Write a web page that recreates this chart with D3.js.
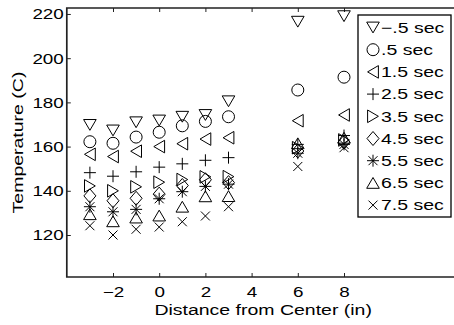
<!DOCTYPE html>
<html>
<head>
<meta charset="utf-8">
<script src="https://cdn.jsdelivr.net/npm/d3@7"></script>
<style>
  body { margin: 0; background: #fff; }
  svg { display: block; font-family: "Liberation Sans", Arial, sans-serif; }
</style>
</head>
<body>
<svg width="454" height="325"></svg>
<script>
const width = 454
const height = 325

// data
const distance = [-3, -2, -1, 0, 1, 2, 3, 6, 8]
const seriesNames = ["\u2212.5 sec", ".5 sec", "1.5 sec", "2.5 sec", "3.5 sec", "4.5 sec", "5.5 sec", "6.5 sec", "7.5 sec"]
const seriesMarkers = ["v", "o", "<", "+", ">", "d", "*", "^", "x"]
const tM05 = [169.8, 167.3, 171.0, 171.8, 173.5, 174.3, 180.5, 216.5, 219.0]
const t05  = [162.2, 161.5, 164.3, 166.5, 169.4, 171.4, 173.5, 185.6, 191.4]
const t15  = [156.5, 155.5, 157.9, 160.0, 161.3, 163.4, 164.0, 171.7, 174.3]
const t25  = [148.2, 146.6, 148.6, 150.7, 152.2, 153.8, 155.0, 161.0, 165.0]
const t35  = [142.2, 140.0, 141.8, 143.9, 145.1, 146.3, 146.4, 159.5, 163.0]
const t45  = [137.7, 135.5, 136.6, 138.5, 142.4, 145.0, 143.7, 158.0, 162.0]
const t55  = [132.8, 130.5, 131.6, 136.4, 139.6, 142.0, 143.0, 157.0, 161.0]
const t65  = [129.4, 126.2, 127.9, 128.8, 132.8, 137.5, 137.6, 161.5, 164.0]
const t75  = [124.2, 120.0, 122.6, 123.6, 126.0, 128.6, 132.8, 151.0, 159.5]
const seriesValues = [tM05, t05, t15, t25, t35, t45, t55, t65, t75]
const xTicks = [-2, 0, 2, 4, 6, 8]
const yTicks = [120, 140, 160, 180, 200, 220]

const stretch = 1.3   // the original font runs wide
const fontSize = 15
const tickFont = 14.5

const svg = d3.select("svg")

const xScale = d3.scaleLinear().domain([-4, 13]).range([66.8, 459.5])
const yScale = d3.scaleLinear().domain([101, 222.7]).range([277, 8])

const x0 = xScale.range()[0], x1 = xScale.range()[1]
const yB = yScale.range()[0], yT = yScale.range()[1]

// marker shapes, centred on the point
function markerPath(type){
	const p = d3.path()
	if (type === "o") { p.moveTo(6, 0); p.arc(0, 0, 6, 0, 2 * Math.PI) }
	else if (type === "v") { p.moveTo(-6.3, -5.4); p.lineTo(6.3, -5.4); p.lineTo(0, 5.4); p.closePath() }
	else if (type === "^") { p.moveTo(-6.3, 5.4); p.lineTo(6.3, 5.4); p.lineTo(0, -5.4); p.closePath() }
	else if (type === "<") { p.moveTo(5.4, -6.3); p.lineTo(5.4, 6.3); p.lineTo(-5.4, 0); p.closePath() }
	else if (type === ">") { p.moveTo(-5.4, -6.3); p.lineTo(-5.4, 6.3); p.lineTo(5.4, 0); p.closePath() }
	else if (type === "d") { p.moveTo(0, -7); p.lineTo(6, 0); p.lineTo(0, 7); p.lineTo(-6, 0); p.closePath() }
	else if (type === "+") { p.moveTo(-6, 0); p.lineTo(6, 0); p.moveTo(0, -6); p.lineTo(0, 6) }
	else if (type === "x") { p.moveTo(-4.5, -4.5); p.lineTo(4.5, 4.5); p.moveTo(-4.5, 4.5); p.lineTo(4.5, -4.5) }
	else if (type === "*") {
		p.moveTo(-6, 0); p.lineTo(6, 0); p.moveTo(0, -6); p.lineTo(0, 6)
		p.moveTo(-4.5, -4.5); p.lineTo(4.5, 4.5); p.moveTo(-4.5, 4.5); p.lineTo(4.5, -4.5)
	}
	return p.toString()
}

// axes
const xAxis = d3.axisBottom(xScale).tickValues(xTicks).tickSizeInner(-4).tickSizeOuter(0)
const xAxisTop = d3.axisTop(xScale).tickValues(xTicks).tickSizeInner(-4).tickSizeOuter(0).tickFormat("")
const yAxis = d3.axisLeft(yScale).tickValues(yTicks).tickSizeInner(-4).tickSizeOuter(0)

const gx = svg.append("g").attr("transform", `translate(0,${yB})`).call(xAxis)
const gxt = svg.append("g").attr("transform", `translate(0,${yT})`).call(xAxisTop)
const gy = svg.append("g").attr("transform", `translate(${x0},0)`).call(yAxis)

;[gx, gxt, gy].forEach(g => {
	g.select(".domain").remove()
	g.selectAll(".tick line").attr("stroke", "#222").attr("stroke-width", 1)
})

gx.selectAll("text")
	.attr("y", null).attr("dy", null)
	.attr("font-size", tickFont).attr("fill", "#000")
	.attr("transform", `translate(0,19.5) scale(${stretch},1)`)

gy.selectAll("text")
	.attr("x", null).attr("dy", "0.34em")
	.attr("font-size", tickFont).attr("fill", "#000")
	.attr("transform", `translate(-3,0) scale(${stretch},1)`)

// frame (left, bottom, top; right side lies outside the window)
svg.append("path")
	.attr("d", `M${x1},${yT}H${x0}V${yB}H${x1}`)
	.attr("fill", "none").attr("stroke", "#222").attr("stroke-width", 1.7)

// points
const groups = svg.append("g").selectAll("g")
	.data(seriesValues)
	.join("g")

groups.each(function(vals, s){
	d3.select(this).selectAll("path")
		.data(vals)
		.join("path")
		.attr("d", markerPath(seriesMarkers[s]))
		.attr("transform", (d, i) => `translate(${xScale(distance[i])},${yScale(d)})`)
		.attr("fill", "none")
		.attr("stroke", "#000")
		.attr("stroke-width", 1)
})

// axis labels
svg.append("text")
	.attr("transform", `translate(${(x0 + x1) / 2},314.5) scale(${stretch},1)`)
	.attr("text-anchor", "middle")
	.attr("font-size", fontSize)
	.text("Distance from Center (in)")

svg.append("text")
	.attr("transform", `translate(23,${(yT + yB) / 2}) rotate(-90) scale(${stretch},1)`)
	.attr("text-anchor", "middle")
	.attr("font-size", fontSize)
	.text("Temperature (C)")

// legend
const legend = svg.append("g")
legend.append("rect")
	.attr("x", 358).attr("y", 15).attr("width", 93).attr("height", 202)
	.attr("fill", "#fff").attr("stroke", "#000").attr("stroke-width", 1.3)

const rows = legend.selectAll("g.row")
	.data(seriesNames)
	.join("g")
	.attr("class", "row")
	.attr("transform", (d, i) => `translate(373,${27.5 + i * 22.2})`)

rows.append("path")
	.attr("d", (d, i) => markerPath(seriesMarkers[i]))
	.attr("fill", "none").attr("stroke", "#000").attr("stroke-width", 1)

rows.append("text")
	.attr("transform", `translate(8,0) scale(${stretch},1)`)
	.attr("dy", "0.35em")
	.attr("font-size", fontSize)
	.text(d => d)
</script>
</body>
</html>
